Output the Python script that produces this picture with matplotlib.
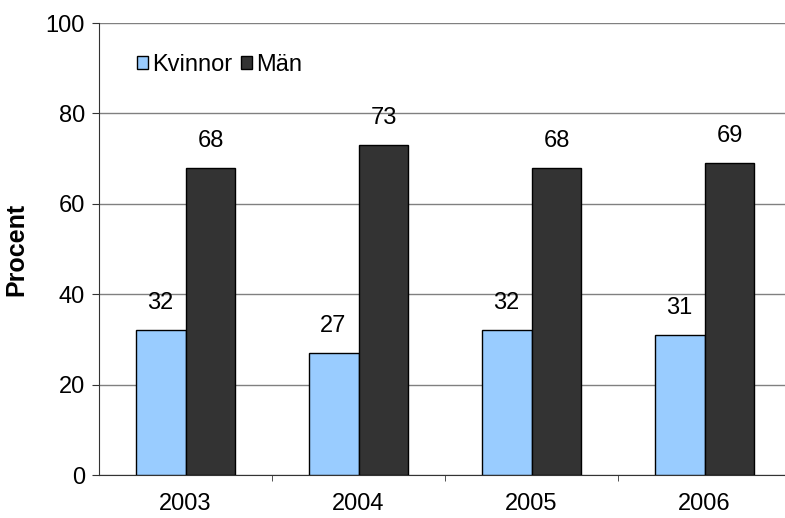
import numpy as np
import matplotlib
matplotlib.use("Agg")
import matplotlib.pyplot as plt

# ── Data ──────────────────────────────────────────────────────────────────────
years   = ["2003", "2004", "2005", "2006"]
kvinnor = [32, 27, 32, 31]
man     = [68, 73, 68, 69]

plt.rcParams["font.family"] = ["Liberation Sans", "DejaVu Sans"]
FS = 17

fig = plt.figure(figsize=(7.85, 5.18), dpi=100)
ax = fig.add_axes([99 / 785, 1 - 475 / 518, 692 / 785, 452 / 518])

x = np.arange(len(years))
w = 0.289
b1 = ax.bar(x - w / 2, kvinnor, w, color="#99ccff", edgecolor="black", lw=1.0,
            label="Kvinnor", zorder=3)
b2 = ax.bar(x + w / 2, man, w, color="#333333", edgecolor="black", lw=1.0,
            label="Män", zorder=3)

# value labels above bars
for rects, vals in ((b1, kvinnor), (b2, man)):
    for r, v in zip(rects, vals):
        ax.text(r.get_x() + r.get_width() / 2, v + 6, str(v),
                ha="center", va="center", fontsize=FS, zorder=4)

ax.set_xlim(-0.5, len(years) - 0.5)
ax.set_ylim(0, 100)
ax.set_yticks(range(0, 101, 20))
ax.set_xticks(x)
ax.set_xticklabels(years, fontsize=FS)
ax.set_xticks(np.arange(0.5, len(years) - 0.5, 1), minor=True)
ax.tick_params(axis="x", which="major", length=0, pad=13)
ax.tick_params(axis="x", which="minor", length=4, color="#333333")
ax.tick_params(axis="y", length=5, labelsize=FS, pad=5, color="#333333")

ax.yaxis.grid(True, color="#808080", lw=1.0, zorder=0)
for s in ("top", "right"):
    ax.spines[s].set_visible(False)
ax.spines["left"].set_color("#333333")
ax.spines["bottom"].set_color("#333333")

ax.set_ylabel("Procent", fontsize=18, fontweight="bold")
ax.yaxis.set_label_coords(-0.1026, 0.5)

ax.legend(loc="center left", bbox_to_anchor=(0.055, 0.907), ncol=2, frameon=False,
          fontsize=FS, handlelength=0.45, handleheight=0.45, handletextpad=0.18,
          columnspacing=0.38, borderaxespad=0, borderpad=0)

fig.savefig("out.png", dpi=100)
